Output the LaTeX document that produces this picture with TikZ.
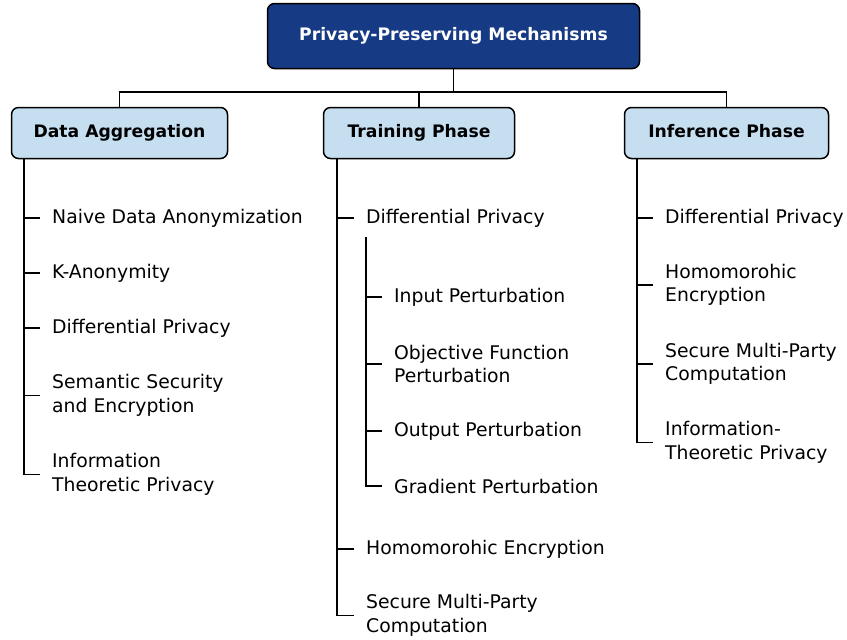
\documentclass[tikz,border=0pt]{standalone}
\usepackage{fontspec}
\setmainfont{DejaVu Sans}
\usepackage{xcolor}
\usepackage{tikz}
\usetikzlibrary{positioning}
\definecolor{darkbox}{HTML}{173A85}
\definecolor{lightbox}{HTML}{C5DEF0}

\begin{document}
\begin{tikzpicture}[x=1pt,y=-1pt]
        \useasboundingbox (0,0) rectangle (847,640);
        \begin{scope}[every node/.style={draw=black,line width=1.5pt,rounded corners=7pt,text height=1.1em,text depth=0.2em,font=\fontsize{17.2}{20}\selectfont\bfseries}]
          \node[fill=darkbox,text=white,minimum width=372pt,minimum height=65pt] (ppm) at (453.5,36) {Privacy-Preserving Mechanisms};
          \node[fill=lightbox,minimum width=216pt,minimum height=51pt] (da) at (119.5,133) {Data Aggregation};
          \node[fill=lightbox,minimum width=191pt,minimum height=51pt] (tp) at (419,133) {Training Phase};
          \node[fill=lightbox,minimum width=204pt,minimum height=51pt] (ip) at (726.5,133) {Inference Phase};
        \end{scope}
        \coordinate (bus) at (453.5,92);
        \coordinate (daspine) at ([xshift=13pt]da.south west);
        \coordinate (tpspine) at ([xshift=14pt]tp.south west);
        \coordinate (ipspine) at ([xshift=13pt]ip.south west);
        \begin{scope}[every node/.style={anchor=west,align=left,inner xsep=12pt,inner ysep=2pt,font=\fontsize{18.8}{23.4}\selectfont}]
          % data aggregation
          \node (da1) at (40,218) {Naive Data Anonymization};
          \node (da2) at (40,273) {K-Anonymity};
          \node (da3) at (40,328) {Differential Privacy};
          \node (da4) at (40,395.5) {Semantic Security\\and Encryption};
          \node (da5) at (40,474.5) {Information\\Theoretic Privacy};
          % training phase
          \node (tp1) at (354,218) {Differential Privacy};
          \node (tp2) at (354,549) {Homomorohic Encryption};
          \node (tp3) at (354,615.5) {Secure Multi-Party\\Computation};
          \node (dp1) at (382,297) {Input Perturbation};
          \node (dp2) at (382,364) {Objective Function\\Perturbation};
          \node (dp3) at (382,431) {Output Perturbation};
          \node (dp4) at (382,486) {Gradient Perturbation};
          % inference phase
          \node (ip1) at (653,218) {Differential Privacy};
          \node (ip2) at (653,285) {Homomorohic\\Encryption};
          \node (ip3) at (653,364) {Secure Multi-Party\\Computation};
          \node (ip4) at (653,442.5) {Information-\\Theoretic Privacy};
        \end{scope}
        \coordinate (dpspine) at ([xshift=12pt,yshift=-8pt]tp1.south west);
        \begin{scope}[line width=1.8pt]
          \draw (ppm.south) -- (bus);
          \draw (da.north) |- (bus) -| (ip.north);
          \draw (tp.north) -- (tp.north |- bus);
          \draw (daspine) |- (da5.west);
          \draw (tpspine) |- (tp3.west);
          \draw (dpspine) |- (dp4.west);
          \draw (ipspine) |- (ip4.west);
        \end{scope}
        \begin{scope}[every edge/.style={draw=black,line width=1.8pt}]
          \path (da1.west) edge (da1.west -| daspine);
          \path (da2.west) edge (da2.west -| daspine);
          \path (da3.west) edge (da3.west -| daspine);
          \path (da4.west) edge (da4.west -| daspine);
          \path (tp1.west) edge (tp1.west -| tpspine);
          \path (tp2.west) edge (tp2.west -| tpspine);
          \path (dp1.west) edge (dp1.west -| dpspine);
          \path (dp2.west) edge (dp2.west -| dpspine);
          \path (dp3.west) edge (dp3.west -| dpspine);
          \path (ip1.west) edge (ip1.west -| ipspine);
          \path (ip2.west) edge (ip2.west -| ipspine);
          \path (ip3.west) edge (ip3.west -| ipspine);
        \end{scope}
      \end{tikzpicture}
\end{document}
